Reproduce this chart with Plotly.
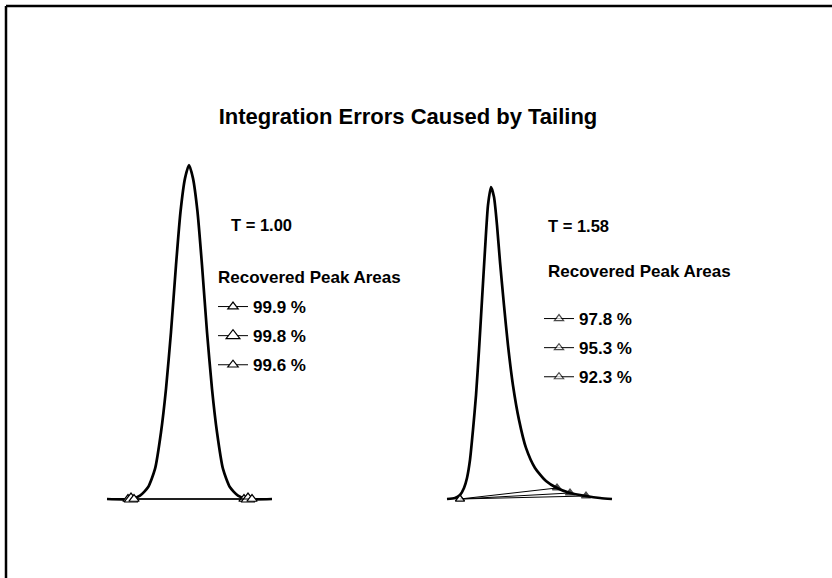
import plotly.graph_objects as go

# Chromatogram of the symmetric peak (tailing factor 1.00): time (min), signal (mAU)
sym_time = [1.07, 1.31, 1.40, 1.48, 1.55, 1.61, 1.66, 1.71, 1.76, 1.805, 1.85, 1.89,
            1.93, 1.975, 2.02, 2.07, 2.12, 2.17, 2.23, 2.30, 2.38, 2.47, 2.72]
sym_signal = [0, 0, 1, 3.5, 9, 20, 33, 50, 70, 86, 96, 100,
              96, 86, 70, 50, 33, 20, 9, 3.5, 1, 0, 0]

# Chromatogram of the tailing peak (tailing factor 1.58)
tail_time = [4.47, 4.55, 4.60, 4.64, 4.67, 4.70, 4.73, 4.76, 4.79, 4.82, 4.85, 4.88, 4.91,
             4.94, 4.97, 5.00, 5.04, 5.08, 5.13, 5.19, 5.26, 5.35, 5.46, 5.57, 5.70,
             5.86, 6.00, 6.12]
tail_signal = [0, 0.3, 1.2, 3.3, 6.3, 11.7, 20.7, 31, 44.6, 59.6, 74.6, 88, 93.4,
               90.4, 82, 71, 58, 46, 34, 23.7, 15.3, 9.3, 5.4, 3.3, 1.8,
               0.9, 0.3, 0]

# Integration start / end times and recovered areas
sym_starts = [1.28, 1.31, 1.34]
sym_ends = [2.44, 2.48, 2.52]
sym_areas = [99.9, 99.8, 99.6]
sym_marker_sizes = [9, 12, 9]

tail_start = 4.60
tail_ends = [5.57, 5.70, 5.86]
tail_end_signal = [3.3, 1.8, 0.9]
tail_areas = [97.8, 95.3, 92.3]

FONT = "Liberation Sans"
W, H = 832, 578

fig = go.Figure()

fig.add_trace(go.Scatter(x=sym_time, y=sym_signal, mode="lines",
                         line=dict(color="black", width=2.7, shape="spline", smoothing=0.6),
                         showlegend=False, hoverinfo="skip"))
fig.add_trace(go.Scatter(x=tail_time, y=tail_signal, mode="lines",
                         line=dict(color="black", width=2.7, shape="spline", smoothing=0.6),
                         showlegend=False, hoverinfo="skip"))

# Integration baselines of the symmetric peak
for i, (t0, t1, area) in enumerate(zip(sym_starts, sym_ends, sym_areas)):
    fig.add_trace(go.Scatter(
        x=[t0, t1], y=[0, 0], mode="lines+markers",
        line=dict(color="black", width=1),
        marker=dict(symbol="triangle-up", size=sym_marker_sizes[i], color="white",
                    line=dict(color="black", width=1.2)),
        name=f"{area} %", legend="legend", legendgroup=f"s{i}"))

# Integration baselines of the tailing peak (drop to the tail)
for i, (t1, s1, area) in enumerate(zip(tail_ends, tail_end_signal, tail_areas)):
    fig.add_trace(go.Scatter(
        x=[tail_start, t1], y=[0, s1], mode="lines+markers",
        line=dict(color="black", width=1),
        marker=dict(symbol="triangle-up", size=[8, 8], color=["white", "black"],
                    line=dict(color="black", width=1.2)),
        name=f"{area} %", legend="legend2", legendgroup=f"t{i}"))

bold = dict(family=FONT, size=17, color="black", weight="bold")

legend_common = dict(xanchor="left", yanchor="top", bgcolor="rgba(0,0,0,0)",
                     borderwidth=0, font=bold, tracegroupgap=4)


def label(text, x, y, size=17):
    return dict(text=text, x=x / W, y=1 - y / H, xref="paper", yref="paper",
                xanchor="left", yanchor="middle", showarrow=False,
                font=dict(bold, size=size))


fig.update_layout(
    width=W, height=H,
    margin=dict(l=0, r=0, t=0, b=0),
    paper_bgcolor="white", plot_bgcolor="white",
    xaxis=dict(range=[0, 8.32], visible=False, fixedrange=True),
    yaxis=dict(range=[-23.65, 149.4], visible=False, fixedrange=True),
    title=dict(text="Integration Errors Caused by Tailing", x=408 / W, y=1 - 116 / H,
               xanchor="center", yanchor="middle",
               font=dict(family=FONT, size=22, color="black", weight="bold")),
    legend=dict(x=213 / W, y=1 - 289 / H, **legend_common),
    legend2=dict(x=539 / W, y=1 - 301 / H, **legend_common),
    showlegend=True,
    annotations=[
        label("T = 1.00", 229, 225, 16.5),
        label("T = 1.58", 546, 226, 16.5),
        label("Recovered Peak Areas", 216, 277),
        label("Recovered Peak Areas", 546, 271),
    ],
    shapes=[
        # open frame: top and left edges only
        dict(type="line", xref="paper", yref="paper", x0=6 / W, x1=1,
             y0=1 - 6 / H, y1=1 - 6 / H, line=dict(color="black", width=2.5)),
        dict(type="line", xref="paper", yref="paper", x0=6 / W, x1=6 / W,
             y0=0, y1=1 - 6 / H, line=dict(color="black", width=2.5)),
    ],
)

fig.write_html("out.html")
